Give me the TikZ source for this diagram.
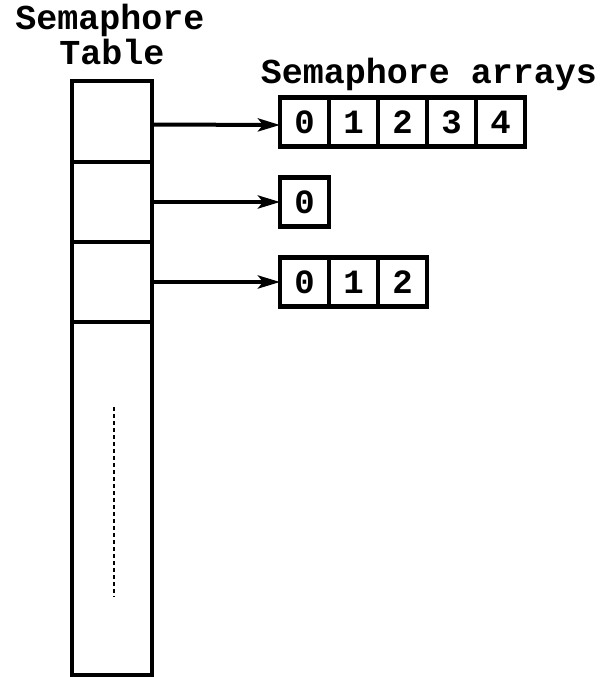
\documentclass[tikz,border=0pt]{standalone}
\usepackage{fontspec}
\newfontfamily\courfont{Liberation Mono}
\usetikzlibrary{arrows.meta}
\begin{document}
\begin{tikzpicture}[x=1pt,y=-1pt,
  lbl/.style={font=\courfont\bfseries\fontsize{35}{35}\selectfont, inner sep=0pt, anchor=base},
  tcell/.style={draw, line width=4.5pt, minimum width=80pt, inner sep=0pt, outer sep=0pt},
  acell/.style={draw, line width=4.5pt, minimum width=49pt, minimum height=49pt, inner sep=0pt, outer sep=0pt,
    font=\courfont\bfseries\fontsize{34}{34}\selectfont},
  ptr/.style={line width=4pt, -{Stealth[length=22pt,width=13pt,inset=5pt]}}]
\useasboundingbox (0,0) rectangle (606,677);
% titles
\node[lbl] (t1) at (110,30) {Semaphore};
\node[lbl] (t2) at (112,65) {Table};
\node[lbl] (t3) at (429,83) {Semaphore arrays};
% table
\node[tcell, minimum height=81pt] (c1) at (112,121.5) {};
\node[tcell, minimum height=80pt] (c2) at (112,202) {};
\node[tcell, minimum height=80pt] (c3) at (112,282) {};
\node[tcell, minimum height=353pt] (c4) at (112,498.5) {};
\coordinate (d1) at (114,407);
\coordinate (d2) at (114,597);
\draw[line width=2pt, dash pattern=on 4pt off 3pt] (d1) -- (d2);
% arrays
\foreach \i in {0,...,4} {
  \node[acell] (a\i) at ({304.5+49*\i},122) {\i};
}
\node[acell] (b0) at (304.5,202) {0};
\foreach \i in {0,...,2} {
  \node[acell] (e\i) at ({304.5+49*\i},282) {\i};
}
% pointers
\draw[ptr] ([yshift=-3pt]c1.east) -- ([yshift=-3pt]a0.west);
\draw[ptr] (c2.east) -- (b0.west);
\draw[ptr] (c3.east) -- (e0.west);
\end{tikzpicture}
\end{document}
